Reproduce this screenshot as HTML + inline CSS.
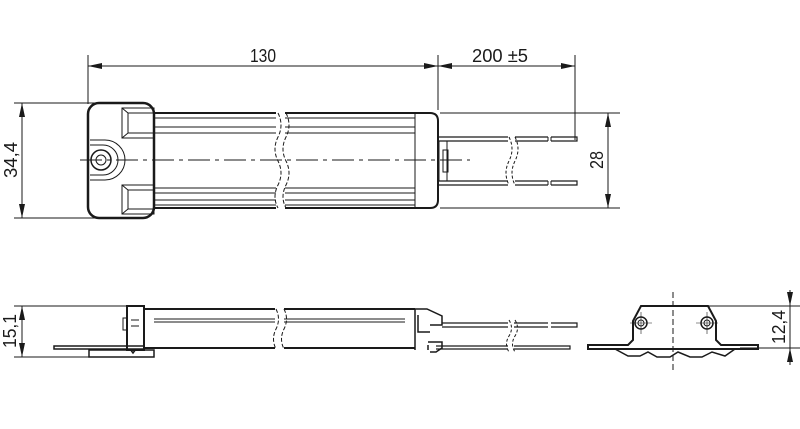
<!DOCTYPE html>
<html><head><meta charset="utf-8"><style>html,body{margin:0;padding:0;background:#fff}svg{display:block}</style></head><body>
<svg width="800" height="429" viewBox="0 0 800 429" xmlns="http://www.w3.org/2000/svg" font-family="Liberation Sans, sans-serif" fill="none" stroke="#1a1a1a">
<defs><marker id="a" markerWidth="14" markerHeight="6" refX="14" refY="3" orient="auto" markerUnits="userSpaceOnUse"><path d="M0,0 L14,3 L0,6z" fill="#1a1a1a" stroke="none"/></marker>
<marker id="b" markerWidth="14" markerHeight="6" refX="0" refY="3" orient="auto" markerUnits="userSpaceOnUse"><path d="M14,0 L0,3 L14,6z" fill="#1a1a1a" stroke="none"/></marker></defs>
<g stroke-width="1">
<line x1="88" y1="55" x2="88" y2="104"/><line x1="438" y1="55" x2="438" y2="110"/><line x1="575" y1="55" x2="575" y2="140"/>
<line x1="88" y1="66" x2="438" y2="66" marker-start="url(#b)" marker-end="url(#a)"/>
<line x1="438" y1="66" x2="575" y2="66" marker-start="url(#b)" marker-end="url(#a)"/>
<line x1="14" y1="103" x2="100" y2="103"/><line x1="14" y1="218" x2="100" y2="218"/>
<line x1="22" y1="103" x2="22" y2="218" marker-start="url(#b)" marker-end="url(#a)"/>
<line x1="440" y1="113" x2="620" y2="113"/><line x1="440" y1="208" x2="620" y2="208"/>
<line x1="608" y1="113" x2="608" y2="208" marker-start="url(#b)" marker-end="url(#a)"/>
<line x1="80" y1="160" x2="470" y2="160" stroke-dasharray="22,5,4,5"/>
</g>
<g fill="#1a1a1a" stroke="none" font-size="18">
<text x="263" y="62" text-anchor="middle" textLength="26" lengthAdjust="spacingAndGlyphs">130</text>
<text x="500" y="62" text-anchor="middle" textLength="56" lengthAdjust="spacingAndGlyphs">200 ±5</text>
<text transform="translate(17,160) rotate(-90)" text-anchor="middle" textLength="36" lengthAdjust="spacingAndGlyphs">34,4</text>
<text transform="translate(603,160) rotate(-90)" text-anchor="middle" textLength="18" lengthAdjust="spacingAndGlyphs">28</text>
<text transform="translate(16,331) rotate(-90)" text-anchor="middle" textLength="34" lengthAdjust="spacingAndGlyphs">15,1</text>
<text transform="translate(785,327) rotate(-90)" text-anchor="middle" textLength="34" lengthAdjust="spacingAndGlyphs">12,4</text>
</g>
<g stroke-width="1">
<path d="M154,113 H276 M285,113 H430 Q438,113 438,121 V200 Q438,208 430,208 H285 M276,208 H154" stroke-width="2"/>
<path d="M154,118H276M285,118H415 M154,127H276M285,127H415 M154,133H276M285,133H415 M154,188H276M285,188H415 M154,193H276M285,193H415 M154,200H276M285,200H415 M154,205H276M285,205H415"/>
<line x1="415" y1="113" x2="415" y2="208"/>
<path d="M278,113 q6,12 0,24 t0,24 t0,24 t0,23 M286,113 q6,12 0,24 t0,24 t0,24 t0,23" stroke-dasharray="4,2"/>
<rect x="88" y="103" width="66" height="115" rx="11" stroke-width="2.5"/>
<path d="M122,108 H154 V138 H122 Z M128,113 H154 M128,113 V133 H154 M122,108 L128,113 M122,138 L128,133"/>
<path d="M122,185 H154 V214 H122 Z M128,190 H154 M128,190 V209 H154 M122,185 L128,190 M122,214 L128,209"/>
<path d="M90,140 H105 A20,20 0 0 1 105,180 H90 M90,145 H103 A15,15 0 0 1 103,175 H90"/>
<circle cx="101" cy="160" r="10" stroke-width="1.5"/><circle cx="101" cy="160" r="5"/>
<path d="M438,137 H508 M515,137 H548 M551,137 H577 V141 H551 M548,141 H515 M508,141 H438" stroke-width="1.2"/>
<path d="M438,181 H508 M515,181 H548 M551,181 H577 V185 H551 M548,185 H515 M508,185 H438" stroke-width="1.2"/>
<path d="M551,137V141M548,137V141M551,181V185M548,181V185"/>
<path d="M509,137 q6,12 0,24 t0,24 M515,137 q6,12 0,24 t0,24" stroke-dasharray="3,2"/>
<rect x="439" y="141" width="8" height="40"/><rect x="443" y="150" width="5" height="22"/>
</g>
<g stroke-width="1">
<line x1="14" y1="306" x2="128" y2="306"/><line x1="14" y1="357" x2="90" y2="357"/>
<line x1="22" y1="306" x2="22" y2="357" marker-start="url(#b)" marker-end="url(#a)"/>
<rect x="127" y="306" width="17" height="44" stroke-width="2"/>
<path d="M127,318 h-4 v12 h4 M131,320h8M131,326h8"/>
<path d="M144,309 H275 M284,309 H415 M284,348 H415 M144,348 H275" stroke-width="2"/>
<path d="M154,319H275M284,319H405 M154,322H275M284,322H405"/>
<path d="M276,309 q5,10 0,20 t0,20 M284,309 q5,10 0,20 t0,20" stroke-dasharray="4,2"/>
<path d="M54,346 H144 V349 H54 Z" stroke-width="1.5"/>
<path d="M89,350 H154 V357 H89 Z M130,349 l3,4 l3,-4" stroke-width="1.5"/>
<path d="M415,309 V350 M415,309 H427 L442,316 V325 H430 M418,315 V332 H430 M428,342 H442 V348 L436,352 H430 M428,345 V350" stroke-width="1.5"/>
<path d="M442,323 H508 M514,323 H548 M551,323 H577 V327 H551 M548,327 H514 M508,327 H442" stroke-width="1.2"/>
<path d="M436,346 H508 M514,346 H570 V349 H514 M508,349 H436" stroke-width="1.2" />
<path d="M509,320 q5,8 0,16 t0,16 M515,320 q5,8 0,16 t0,16" stroke-dasharray="3,2"/>
</g>
<g stroke-width="1">
<line x1="700" y1="306" x2="800" y2="306"/><line x1="740" y1="348" x2="800" y2="348"/>
<line x1="790" y1="290" x2="790" y2="306" marker-end="url(#a)"/>
<line x1="790" y1="365" x2="790" y2="348" marker-end="url(#a)"/>
<line x1="790" y1="306" x2="790" y2="348"/>
<line x1="673" y1="292" x2="673" y2="372" stroke-dasharray="6,3"/>
<path d="M588,345 H628 L633,340 V321 L641,306 H708 L716,321 V340 L721,345 H758 V349 H588 Z" stroke-width="2"/>
<path d="M615,349 L628,356 H640 L648,352 L657,357 H670 L678,352 L690,357 H702 L712,352 L725,356 L735,349" stroke-width="1.5"/>
<circle cx="641" cy="323" r="6" stroke-width="1.5"/><circle cx="641" cy="323" r="3"/>
<circle cx="707" cy="323" r="6" stroke-width="1.5"/><circle cx="707" cy="323" r="3"/>
<path d="M630,323H652M641,312V334M696,323H718M707,312V334" stroke-width="0.6"/>
</g>
</svg>
</body></html>
